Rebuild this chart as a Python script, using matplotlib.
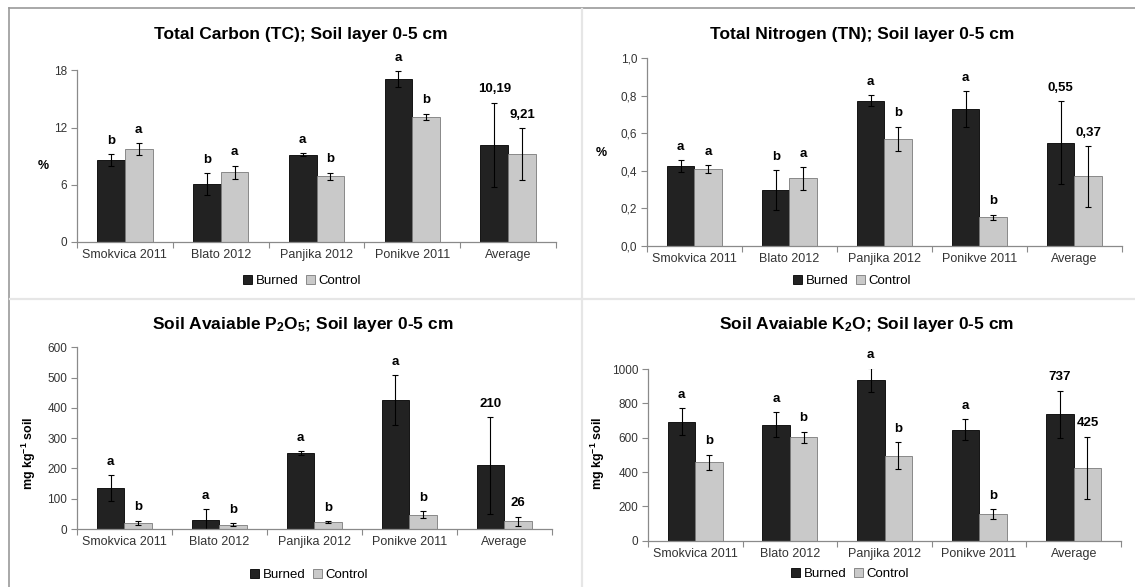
import numpy as np
import matplotlib
matplotlib.use("Agg")
import matplotlib.pyplot as plt
from matplotlib.ticker import FuncFormatter
from matplotlib.patches import Patch
from matplotlib.lines import Line2D

plt.rcParams["font.family"] = ["Liberation Sans", "DejaVu Sans"]
plt.rcParams["mathtext.default"] = "regular"

W, H = 1135, 587

SITES = ["Smokvica 2011", "Blato 2012", "Panjika 2012", "Ponikve 2011", "Average"]

# Total carbon (%)
TC_BURNED = [8.55, 6.10, 9.17, 17.09, 10.19]
TC_BURNED_ERR = [0.63, 1.13, 0.14, 0.81, 4.43]
TC_CONTROL = [9.77, 7.32, 6.87, 13.11, 9.21]
TC_CONTROL_ERR = [0.61, 0.68, 0.38, 0.32, 2.70]
TC_BURNED_LBL = ["b", "b", "a", "a", "10,19"]
TC_CONTROL_LBL = ["a", "a", "b", "b", "9,21"]

# Total nitrogen (%)
TN_BURNED = [0.425, 0.297, 0.774, 0.728, 0.55]
TN_BURNED_ERR = [0.030, 0.105, 0.028, 0.097, 0.222]
TN_CONTROL = [0.409, 0.359, 0.569, 0.151, 0.37]
TN_CONTROL_ERR = [0.020, 0.060, 0.065, 0.015, 0.162]
TN_BURNED_LBL = ["a", "b", "a", "a", "0,55"]
TN_CONTROL_LBL = ["a", "a", "b", "b", "0,37"]

# Available P2O5 (mg/kg)
P_BURNED = [134, 31, 251, 425, 210]
P_BURNED_ERR = [43, 34, 5, 83, 159]
P_CONTROL = [20, 14, 23, 47, 26]
P_CONTROL_ERR = [8, 5, 3, 11, 15]
P_BURNED_LBL = ["a", "a", "a", "a", "210"]
P_CONTROL_LBL = ["b", "b", "b", "b", "26"]

# Available K2O (mg/kg)
K_BURNED = [693, 676, 936, 647, 737]
K_BURNED_ERR = [80, 73, 70, 60, 136]
K_CONTROL = [456, 602, 495, 157, 425]
K_CONTROL_ERR = [46, 32, 80, 28, 180]
K_BURNED_LBL = ["a", "a", "a", "a", "737"]
K_CONTROL_LBL = ["b", "b", "b", "b", "425"]

DARK = "#222222"
LIGHT = "#c9c9c9"
AXIS_GRAY = "#8a8a8a"
TEXT_GRAY = "#333333"


def px_rect(left, right, y0, ytop):
    return [left / W, 1 - y0 / H, (right - left) / W, (y0 - ytop) / H]


def draw_panel(fig, rect, burned, burned_err, control, control_err,
               burned_lbl, control_lbl, ymax, yticks, fmt,
               title, title_xy, ylabel, ylabel_xy, legend_xy):
    ax = fig.add_axes(rect)
    x = np.arange(len(SITES))
    w = 0.29
    ekw = dict(ecolor="black", elinewidth=0.8, capsize=2.2, capthick=0.8)
    ax.bar(x - w / 2, burned, w, color=DARK, edgecolor="black", linewidth=0.6,
           yerr=burned_err, error_kw=ekw, label="Burned")
    ax.bar(x + w / 2, control, w, color=LIGHT, edgecolor="#7a7a7a", linewidth=0.6,
           yerr=control_err, error_kw=ekw, label="Control")

    for xi, v, e, s in zip(x - w / 2, burned, burned_err, burned_lbl):
        ax.annotate(s, (xi, v + e), xytext=(0, 7.5), textcoords="offset points",
                    ha="center", va="baseline", fontsize=9.5, fontweight="bold",
                    annotation_clip=False)
    for xi, v, e, s in zip(x + w / 2, control, control_err, control_lbl):
        ax.annotate(s, (xi, v + e), xytext=(0, 7.5), textcoords="offset points",
                    ha="center", va="baseline", fontsize=9.5, fontweight="bold",
                    annotation_clip=False)

    ax.set_xlim(-0.5, len(SITES) - 0.5)
    ax.set_ylim(0, ymax)
    ax.set_yticks(yticks)
    ax.yaxis.set_major_formatter(FuncFormatter(fmt))
    ax.set_xticks(np.arange(len(SITES) + 1) - 0.5)
    ax.set_xticklabels([])
    ax.set_xticks(x, minor=True)
    ax.set_xticklabels(SITES, minor=True)
    ax.tick_params(axis="x", which="major", length=4, direction="out", color=AXIS_GRAY)
    ax.tick_params(axis="x", which="minor", length=0, pad=5, labelsize=9, labelcolor=TEXT_GRAY)
    ax.tick_params(axis="y", length=4, direction="out", color=AXIS_GRAY,
                   labelsize=8.5, labelcolor=TEXT_GRAY, pad=3)
    for side in ["top", "right"]:
        ax.spines[side].set_visible(False)
    for side in ["left", "bottom"]:
        ax.spines[side].set_color(AXIS_GRAY)
        ax.spines[side].set_linewidth(0.9)

    fig.text(title_xy[0] / W, 1 - title_xy[1] / H, title, ha="center", va="center",
             fontsize=12.5, fontweight="bold")
    fig.text(ylabel_xy[0] / W, 1 - ylabel_xy[1] / H, ylabel, ha="center", va="center",
             fontsize=9, fontweight="bold", rotation=0 if ylabel == "%" else 90)

    handles = [Patch(facecolor=DARK, edgecolor="black", linewidth=0.6),
               Patch(facecolor=LIGHT, edgecolor="#7a7a7a", linewidth=0.6)]
    ax.legend(handles, ["Burned", "Control"], loc="center", ncol=2, frameon=False,
              bbox_to_anchor=(legend_xy[0] / W, 1 - legend_xy[1] / H),
              bbox_transform=fig.transFigure, fontsize=9.5,
              handlelength=0.7, handleheight=0.7, handletextpad=0.25,
              columnspacing=0.6, borderpad=0)
    return ax


def main():
    fig = plt.figure(figsize=(W / 100, H / 100), dpi=100)

    # panel frame lines
    fig.add_artist(Line2D([9 / W, 1], [1 - 8 / H] * 2, color="#9a9a9a", lw=1.2))
    fig.add_artist(Line2D([9 / W] * 2, [0, 1 - 8 / H], color="#9a9a9a", lw=1.2))
    fig.add_artist(Line2D([582 / W] * 2, [0, 1 - 9 / H], color="#e6e6e6", lw=1.6))
    fig.add_artist(Line2D([10 / W, 1], [1 - 299 / H] * 2, color="#e6e6e6", lw=1.6))

    int_fmt = lambda v, p: f"{v:.0f}"
    comma_fmt = lambda v, p: f"{v:.1f}".replace(".", ",")

    draw_panel(fig, px_rect(77, 556, 242, 70.3),
               TC_BURNED, TC_BURNED_ERR, TC_CONTROL, TC_CONTROL_ERR,
               TC_BURNED_LBL, TC_CONTROL_LBL, 18, [0, 6, 12, 18], int_fmt,
               "Total Carbon (TC); Soil layer 0-5 cm", (301, 35),
               "%", (43, 166), (302, 281))

    draw_panel(fig, px_rect(647, 1122, 245.7, 58.3),
               TN_BURNED, TN_BURNED_ERR, TN_CONTROL, TN_CONTROL_ERR,
               TN_BURNED_LBL, TN_CONTROL_LBL, 1.0, np.arange(0, 1.01, 0.2), comma_fmt,
               "Total Nitrogen (TN); Soil layer 0-5 cm", (862, 35),
               "%", (601, 153), (852, 281))

    draw_panel(fig, px_rect(77, 551.6, 529, 347.3),
               P_BURNED, P_BURNED_ERR, P_CONTROL, P_CONTROL_ERR,
               P_BURNED_LBL, P_CONTROL_LBL, 600, range(0, 601, 100), int_fmt,
               "Soil Avaiable P$_2$O$_5$; Soil layer 0-5 cm", (303, 324),
               "mg kg$^{-1}$ soil", (29, 453), (309, 575))

    draw_panel(fig, px_rect(648, 1121, 540.7, 369),
               K_BURNED, K_BURNED_ERR, K_CONTROL, K_CONTROL_ERR,
               K_BURNED_LBL, K_CONTROL_LBL, 1000, range(0, 1001, 200), int_fmt,
               "Soil Avaiable K$_2$O; Soil layer 0-5 cm", (867, 324),
               "mg kg$^{-1}$ soil", (598, 453), (850, 574))

    fig.savefig("out.png", dpi=100)
    plt.close(fig)


if __name__ == "__main__":
    main()
